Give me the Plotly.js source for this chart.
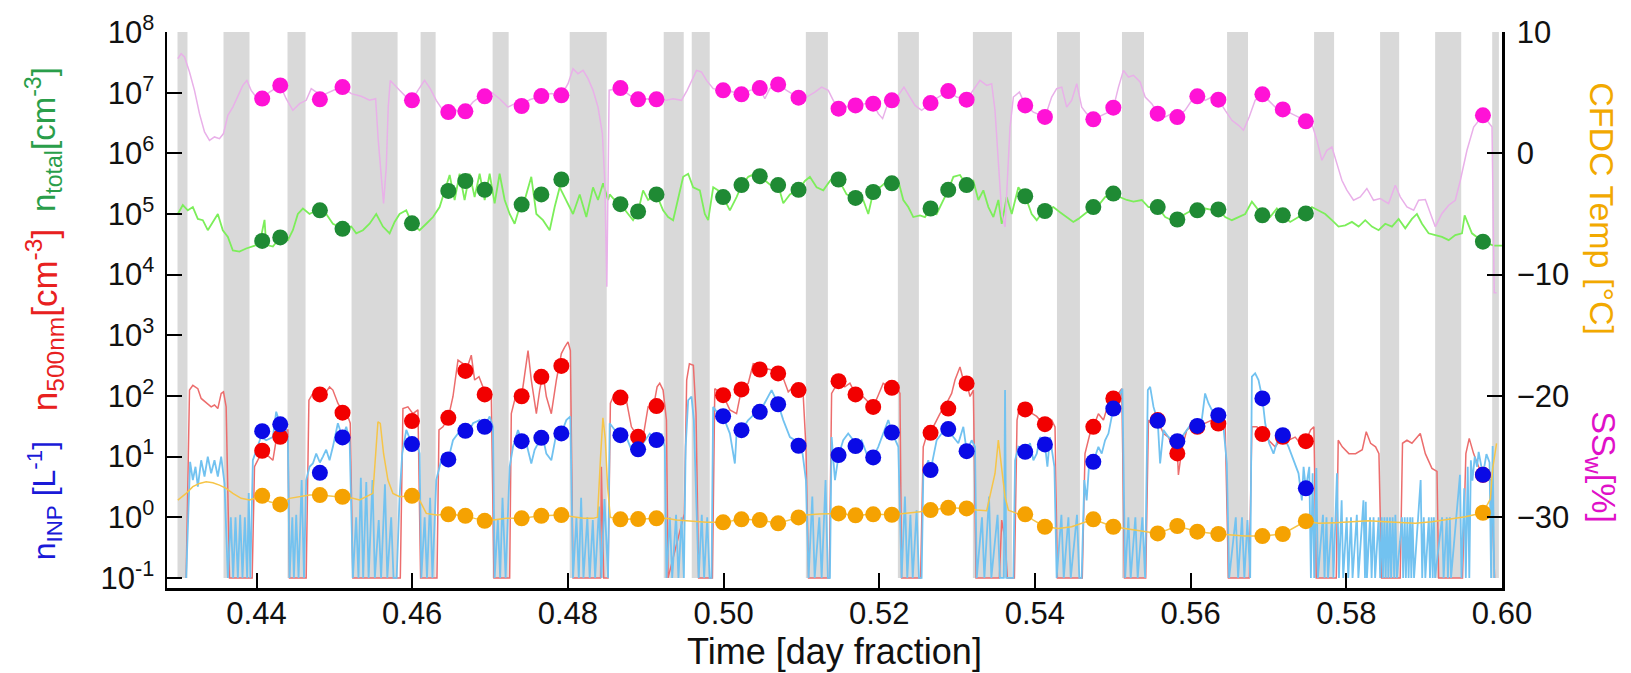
<!DOCTYPE html>
<html>
<head>
<meta charset="utf-8">
<script src="https://cdn.plot.ly/plotly-3.0.1.min.js"></script>
<style>html,body{margin:0;padding:0;background:#fff}#chart{width:1631px;height:673px}</style>
</head>
<body>
<div id="chart"></div>
<script>
// ---------- data ----------
const xTickVals = [0.44,0.46,0.48,0.50,0.52,0.54,0.56,0.58,0.60];
const leftTickVals = [0.1,1,10,100,1e3,1e4,1e5,1e6,1e7,1e8];
const leftTickText = ['10<sup>-1</sup>','10<sup>0</sup>','10<sup>1</sup>','10<sup>2</sup>','10<sup>3</sup>','10<sup>4</sup>','10<sup>5</sup>','10<sup>6</sup>','10<sup>7</sup>','10<sup>8</sup>'];
const rightTickVals = [-30,-20,-10,0,10];

// grey bands (filter / background periods)
const bandStart = [0.42985,0.43576,0.44398,0.45221,0.46108,0.47033,0.48023,0.49231,0.49591,0.51057,0.52239,0.53203,0.54283,0.55118,0.56468,0.57586,0.58434,0.59141,0.59874];
const bandEnd   = [0.43113,0.43910,0.44630,0.45812,0.46301,0.47239,0.48499,0.49488,0.49822,0.51340,0.52509,0.53704,0.54578,0.55401,0.56737,0.57843,0.58679,0.59476,0.59960];

// sample averages (markers)
const sampleTime = [0.44073,0.44305,0.44814,0.45105,0.45997,0.46464,0.46683,0.46931,0.47406,0.47659,0.47916,
  0.48675,0.48902,0.49138,0.49994,0.50230,0.50465,0.50701,0.50963,0.51477,0.51695,0.51922,0.52162,0.52659,0.52886,0.53122,0.53875,0.54128,
  0.54750,0.55007,0.55577,0.55829,0.56086,0.56356,0.56922,0.57184,0.57480,0.59755];
const sswSample = [4.51,5.60,4.45,5.46,4.37,3.40,3.46,4.70,3.90,4.72,4.78,
  5.38,4.45,4.45,5.19,4.86,5.38,5.68,4.59,3.68,3.95,4.09,4.37,4.14,5.13,4.42,3.95,3.00,
  2.80,3.76,3.27,2.99,4.70,4.42,4.86,3.62,2.64,3.13];
const nTotalSample = [3.6e4,4.1e4,1.15e5,5.7e4,7.0e4,2.4e5,3.5e5,2.5e5,1.43e5,2.1e5,3.7e5,
  1.45e5,1.1e5,2.1e5,1.9e5,3.0e5,4.2e5,3.0e5,2.5e5,3.7e5,1.84e5,2.3e5,3.2e5,1.23e5,2.5e5,3.0e5,1.96e5,1.12e5,
  1.3e5,2.17e5,1.3e5,8.1e4,1.15e5,1.19e5,9.5e4,9.5e4,1.02e5,3.5e4];
const n500Sample = [12.5,21.2,106,53,38.5,43.6,259,106,99,207,313,
  94,21.2,68,103,128,273,235,125,175,106,66,136,24.7,62,161,60,34.3,
  31,91,40,11.3,31,35,23.5,21.2,18,5.0];
const nInpSample = [26.3,34,5.4,20.7,16.1,9.0,26.6,31,18,20.4,24.1,
  22.6,13.2,18.7,46.5,27.3,54.7,73,15.1,10.6,14.9,9.7,25,6.0,28.4,12.3,12,15.9,
  8.2,62,38.9,18,32.1,48.3,91,22.6,3.0,5.0];
const cfdcTempSample = [-28.23,-28.94,-28.17,-28.31,-28.23,-29.76,-29.88,-30.29,-30.09,-29.88,-29.82,
  -30.17,-30.15,-30.09,-30.42,-30.17,-30.23,-30.50,-30.01,-29.68,-29.84,-29.76,-29.79,-29.41,-29.22,-29.27,-29.76,-30.78,
  -30.17,-30.78,-31.33,-30.72,-31.19,-31.38,-31.55,-31.38,-30.32,-29.63];

// continuous records: [time, value]
const sswLine = [[0.42989,7.80],[0.43032,8.21],[0.43075,7.94],[0.43139,6.70],[0.43203,5.19],[0.43267,3.27],[0.43332,1.76],[0.43396,1.07],[0.43460,1.35],[0.43524,1.21],
[0.43576,1.63],[0.43632,3.13],[0.43696,3.81],[0.43760,4.64],[0.43824,5.60],[0.43876,6.01],[0.43931,5.19],[0.43996,4.64],[0.44073,4.50],[0.44167,5.05],
[0.44231,5.33],[0.44304,5.60],[0.44381,4.50],[0.44467,3.54],[0.44553,4.09],[0.44638,4.37],[0.44703,5.33],[0.44767,5.05],[0.44814,4.45],[0.44895,4.92],
[0.45003,5.24],[0.45105,5.46],[0.45217,4.92],[0.45345,4.70],[0.45452,4.37],[0.45530,4.50],[0.45564,1.07],[0.45602,-2.22],[0.45632,-4.14],[0.45667,-1.12],
[0.45692,3.81],[0.45718,6.01],[0.45774,5.60],[0.45838,5.19],[0.45924,4.64],[0.45997,4.37],[0.46074,5.19],[0.46159,6.01],[0.46232,5.33],[0.46309,4.37],
[0.46395,3.54],[0.46464,3.41],[0.46566,3.54],[0.46682,3.46],[0.46781,4.23],[0.46866,4.64],[0.46931,4.70],[0.47016,5.05],[0.47123,4.50],[0.47230,3.81],
[0.47316,4.09],[0.47406,3.90],[0.47509,4.42],[0.47659,4.73],[0.47787,4.92],[0.47916,4.78],[0.48002,5.74],[0.48066,6.98],[0.48130,6.56],[0.48195,6.84],
[0.48259,6.15],[0.48323,5.19],[0.48387,3.81],[0.48443,1.63],[0.48475,-2.49],[0.48500,-11.0],[0.48530,5.20],[0.48675,5.38],[0.48795,4.78],[0.48902,4.45],
[0.49010,4.50],[0.49138,4.45],[0.49266,4.37],[0.49352,4.50],[0.49459,4.37],[0.49532,5.19],[0.49588,6.01],[0.49653,6.84],[0.49717,6.70],[0.49781,6.01],
[0.49867,5.33],[0.49994,5.19],[0.50123,5.05],[0.50230,4.86],[0.50337,5.19],[0.50466,5.38],[0.50530,4.50],[0.50594,5.33],[0.50702,5.68],[0.50809,5.19],
[0.50963,4.59],[0.51066,4.64],[0.51173,5.05],[0.51259,5.46],[0.51345,5.19],[0.51409,4.37],[0.51478,3.68],[0.51580,3.81],[0.51696,3.95],[0.51816,4.09],
[0.51923,4.09],[0.51987,3.27],[0.52043,2.86],[0.52094,3.81],[0.52163,4.37],[0.52245,4.78],[0.52317,5.46],[0.52394,4.64],[0.52459,3.95],[0.52545,3.54],
[0.52660,4.14],[0.52759,4.64],[0.52887,5.13],[0.52994,4.64],[0.53123,4.42],[0.53230,5.46],[0.53294,6.01],[0.53380,5.60],[0.53444,5.74],[0.53487,3.54],
[0.53530,-0.57],[0.53573,-4.96],[0.53616,-6.06],[0.53646,-1.67],[0.53680,2.17],[0.53723,4.64],[0.53800,5.05],[0.53877,3.95],[0.53980,3.40],[0.54130,2.99],
[0.54215,4.64],[0.54279,5.33],[0.54344,5.46],[0.54408,3.81],[0.54472,4.37],[0.54537,5.74],[0.54601,3.81],[0.54665,3.27],[0.54751,2.80],[0.54858,3.13],
[0.54944,3.40],[0.55008,3.76],[0.55073,5.46],[0.55137,6.84],[0.55201,6.29],[0.55266,6.43],[0.55351,5.88],[0.55416,4.64],[0.55501,4.09],[0.55578,3.27],
[0.55673,2.99],[0.55758,3.27],[0.55830,2.99],[0.55929,3.54],[0.56015,4.37],[0.56088,4.70],[0.56186,4.37],[0.56272,4.64],[0.56358,4.42],[0.56444,3.54],
[0.56530,2.72],[0.56615,2.31],[0.56679,1.90],[0.56752,2.99],[0.56829,4.37],[0.56923,4.86],[0.57000,4.37],[0.57086,3.81],[0.57185,3.62],[0.57300,3.27],
[0.57386,2.99],[0.57481,2.64],[0.57558,2.44],[0.57622,1.07],[0.57686,-0.57],[0.57751,0.25],[0.57815,0.52],[0.57879,-0.85],[0.57943,-2.22],[0.58007,-3.04],
[0.58093,-3.87],[0.58179,-3.59],[0.58264,-2.90],[0.58350,-3.87],[0.58436,-3.73],[0.58543,-4.14],[0.58629,-2.63],[0.58693,-3.59],[0.58779,-4.41],[0.58865,-4.69],
[0.58929,-3.87],[0.59015,-3.81],[0.59079,-4.96],[0.59143,-6.06],[0.59229,-4.96],[0.59315,-4.28],[0.59400,-3.87],[0.59465,-2.22],[0.59550,0.25],[0.59636,2.17],
[0.59756,3.13],[0.59872,2.17],[0.59900,-11.5],[0.59930,-11.5]];

const nTotalLine = [[0.42989,1.0e5],[0.43053,1.4e5],[0.43117,1.15e5],[0.43182,1.3e5],[0.43246,8.3e4],[0.43310,7.9e4],[0.43374,5.4e4],[0.43439,7.4e4],[0.43503,1.0e5],[0.43567,5.4e4],
[0.43632,4.2e4],[0.43696,2.5e4],[0.43781,2.4e4],[0.43867,2.7e4],[0.43953,2.9e4],[0.44039,3.2e4],[0.44103,8.0e4],[0.44124,3.1e4],[0.44210,2.9e4],[0.44304,4.1e4],
[0.44403,3.7e4],[0.44467,5.4e4],[0.44531,1.0e5],[0.44596,1.23e5],[0.44681,1.0e5],[0.44767,1.15e5],[0.44814,1.15e5],[0.44895,1.0e5],[0.44981,6.9e4],[0.45105,5.8e4],
[0.45217,6.2e4],[0.45281,4.8e4],[0.45367,5.4e4],[0.45452,6.9e4],[0.45538,1.0e5],[0.45624,6.2e4],[0.45710,4.8e4],[0.45774,7.4e4],[0.45838,1.0e5],[0.45924,1.15e5],
[0.45997,6.9e4],[0.46095,5.4e4],[0.46181,6.9e4],[0.46267,8.9e4],[0.46352,1.3e5],[0.46417,2.45e5],[0.46481,4.4e5],[0.46545,1.7e5],[0.46609,4.6e5],[0.46673,1.7e5],
[0.46738,4.6e5],[0.46802,1.9e5],[0.46866,4.6e5],[0.46931,1.7e5],[0.46995,4.6e5],[0.47059,1.5e5],[0.47123,4.6e5],[0.47188,1.7e5],[0.47252,1.0e5],[0.47316,6.9e4],
[0.47380,1.3e5],[0.47445,1.7e5],[0.47530,4.1e5],[0.47595,1.0e5],[0.47680,7.9e4],[0.47766,5.4e4],[0.47830,1.3e5],[0.47895,2.75e5],[0.47980,1.7e5],[0.48066,1.0e5],
[0.48152,2.1e5],[0.48237,8.9e4],[0.48323,2.75e5],[0.48387,1.7e5],[0.48452,3.2e5],[0.48516,1.7e5],[0.48537,2.1e5],[0.48601,1.7e5],[0.48675,1.45e5],[0.48773,1.0e5],
[0.48837,7.9e4],[0.48902,1.1e5],[0.48966,2.45e5],[0.49030,1.7e5],[0.49138,2.1e5],[0.49223,1.15e5],[0.49288,8.9e4],[0.49352,7.9e4],[0.49416,1.7e5],[0.49481,4.1e5],
[0.49545,4.6e5],[0.49609,2.75e5],[0.49695,2.45e5],[0.49759,1.0e5],[0.49802,7.9e4],[0.49867,2.75e5],[0.49931,2.45e5],[0.49995,1.9e5],[0.50081,1.15e5],[0.50167,1.9e5],
[0.50231,2.95e5],[0.50317,4.1e5],[0.50402,4.6e5],[0.50467,4.2e5],[0.50552,3.4e5],[0.50638,2.75e5],[0.50702,2.95e5],[0.50767,1.5e5],[0.50852,2.1e5],[0.50964,2.5e5],
[0.51045,3.5e5],[0.51109,4.1e5],[0.51195,2.75e5],[0.51281,2.45e5],[0.51366,3.5e5],[0.51431,4.1e5],[0.51478,3.7e5],[0.51580,2.1e5],[0.51696,1.8e5],[0.51794,1.7e5],
[0.51859,1.0e5],[0.51923,2.3e5],[0.52009,2.75e5],[0.52094,3.4e5],[0.52163,3.2e5],[0.52245,3.5e5],[0.52309,1.7e5],[0.52373,1.3e5],[0.52437,8.9e4],[0.52523,9.5e4],
[0.52587,8.9e4],[0.52660,1.23e5],[0.52737,1.0e5],[0.52823,1.7e5],[0.52887,2.5e5],[0.52952,4.1e5],[0.53037,4.4e5],[0.53123,2.95e5],[0.53209,3.5e5],[0.53273,1.7e5],
[0.53337,2.45e5],[0.53402,1.3e5],[0.53466,8.9e4],[0.53530,1.7e5],[0.53573,6.9e4],[0.53637,1.9e5],[0.53702,1.0e5],[0.53787,2.75e5],[0.53877,1.95e5],[0.53958,1.0e5],
[0.54023,7.9e4],[0.54108,1.12e5],[0.54236,1.3e5],[0.54322,1.07e5],[0.54408,8.9e4],[0.54493,7.4e4],[0.54557,8.3e4],[0.54643,1.0e5],[0.54751,1.3e5],[0.54837,1.5e5],
[0.54901,1.9e5],[0.55008,2.1e5],[0.55094,1.9e5],[0.55180,1.7e5],[0.55266,1.6e5],[0.55373,1.7e5],[0.55458,1.3e5],[0.55578,1.3e5],[0.55673,8.9e4],[0.55758,7.9e4],
[0.55830,8.1e4],[0.55929,1.0e5],[0.56015,1.15e5],[0.56088,1.15e5],[0.56186,1.23e5],[0.56272,1.17e5],[0.56358,1.19e5],[0.56444,8.9e4],[0.56530,7.9e4],[0.56615,8.9e4],
[0.56701,1.0e5],[0.56787,1.6e5],[0.56872,1.15e5],[0.56923,9.5e4],[0.57022,8.9e4],[0.57108,1.23e5],[0.57185,9.5e4],[0.57279,7.4e4],[0.57386,8.9e4],[0.57481,1.0e5],
[0.57558,1.3e5],[0.57643,1.15e5],[0.57729,1.0e5],[0.57815,7.9e4],[0.57900,6.2e4],[0.57986,6.5e4],[0.58072,7.4e4],[0.58158,6.2e4],[0.58243,7.9e4],[0.58329,6.2e4],
[0.58415,5.4e4],[0.58500,6.9e4],[0.58586,6.2e4],[0.58672,8.3e4],[0.58757,5.8e4],[0.58843,8.3e4],[0.58907,1.0e5],[0.58972,6.9e4],[0.59057,4.8e4],[0.59143,4.5e4],
[0.59229,4.2e4],[0.59315,3.7e4],[0.59400,4.5e4],[0.59486,4.8e4],[0.59520,9.5e4],[0.59614,4.8e4],[0.59756,3.5e4],[0.59893,3.0e4],[0.60000,3.0e4]];

const n500Line = [[0.43096,0.1],[0.43139,125],[0.43182,150],[0.43246,132],[0.43289,91],[0.43353,76],[0.43417,66],[0.43460,71],[0.43503,62],[0.43546,110],
[0.43576,117],[0.43610,66],[0.43632,4.1],[0.43653,0.1],[0.43944,0.1],[0.43974,6.8],[0.44039,10],[0.44124,11],[0.44210,8.7],[0.44253,18.8],
[0.44304,21],[0.44360,27.5],[0.44403,27.5],[0.44424,0.1],[0.44638,0.1],[0.44673,85],[0.44724,110],[0.44814,106],[0.44895,117],[0.44938,141],
[0.44981,125],[0.45045,76],[0.45105,55],[0.45153,55],[0.45204,35.5],[0.45238,0.1],[0.45847,0.1],[0.45881,62],[0.45945,66],[0.46009,51],
[0.46074,59],[0.46108,0.1],[0.46318,0.1],[0.46344,27.5],[0.46395,31],[0.46464,44],[0.46524,98],[0.46588,390],[0.46652,340],[0.46716,320],
[0.46759,470],[0.46802,183],[0.46858,208],[0.46909,141],[0.46973,125],[0.47016,103],[0.47050,0.1],[0.47252,0.1],[0.47273,51],[0.47338,110],
[0.47406,99],[0.47458,280],[0.47488,560],[0.47530,183],[0.47595,51],[0.47638,125],[0.47680,236],[0.47723,98],[0.47787,51],[0.47852,183],
[0.47916,500],[0.47959,640],[0.48002,780],[0.48032,560],[0.48066,0.1],[0.48420,0.1],[0.48430,6.8],[0.48460,0.1],[0.48516,0.1],[0.48546,76],
[0.48602,110],[0.48675,94],[0.48751,85],[0.48816,31],[0.48902,21],[0.48966,21],[0.49030,66],[0.49095,62],[0.49146,141],[0.49180,162],
[0.49223,125],[0.49266,40],[0.49287,0.1],[0.49496,1.15],[0.49526,183],[0.49561,340],[0.49612,320],[0.49646,51],[0.49680,0.1],[0.49857,0.1],
[0.49887,132],[0.49994,103],[0.50081,59],[0.50167,51],[0.50230,129],[0.50317,162],[0.50381,340],[0.50467,320],[0.50552,280],[0.50638,265],
[0.50702,235],[0.50767,195],[0.50831,117],[0.50895,141],[0.50963,125],[0.51015,162],[0.51058,14.5],[0.51092,0.1],[0.51358,0.1],[0.51388,110],
[0.51478,175],[0.51558,141],[0.51623,162],[0.51696,106],[0.51773,103],[0.51837,85],[0.51923,66],[0.51987,103],[0.52051,162],[0.52163,136],
[0.52223,141],[0.52266,110],[0.52287,0.1],[0.52531,0.1],[0.52565,14.5],[0.52630,27.5],[0.52660,24.7],[0.52694,31],[0.52780,51],[0.52866,76],
[0.52930,110],[0.52973,183],[0.53037,300],[0.53080,183],[0.53123,161],[0.53166,98],[0.53209,125],[0.53243,0.1],[0.53543,0.1],[0.53573,0.9],
[0.53616,0.42],[0.53646,0.1],[0.53736,0.1],[0.53770,40],[0.53813,76],[0.53877,60],[0.53958,51],[0.54023,46],[0.54108,34.3],[0.54215,40],
[0.54258,31],[0.54288,0.1],[0.54608,0.1],[0.54643,11.2],[0.54707,24],[0.54751,31],[0.54815,51],[0.54880,40],[0.54944,76],[0.55008,91],
[0.55073,110],[0.55116,132],[0.55150,0.1],[0.55423,0.1],[0.55458,40],[0.55522,31],[0.55578,40],[0.55651,24],[0.55715,21],[0.55780,13],
[0.55830,11.3],[0.55843,5],[0.55886,13],[0.55950,27.5],[0.56015,31],[0.56088,31],[0.56186,35.5],[0.56272,40],[0.56358,35],[0.56444,31],
[0.56486,0.1],[0.56752,0.1],[0.56787,31],[0.56851,31],[0.56923,23.5],[0.57000,18.6],[0.57086,14.5],[0.57185,21],[0.57258,18.6],[0.57343,21],
[0.57408,16.6],[0.57481,18],[0.57541,27.5],[0.57584,31],[0.57614,0.1],[0.57871,0.1],[0.57896,18.6],[0.57948,14.5],[0.58033,11.2],[0.58119,11.2],
[0.58205,13],[0.58256,25.7],[0.58312,16.6],[0.58376,14.5],[0.58419,11.2],[0.58453,0.1],[0.58692,0.1],[0.58722,16.6],[0.58779,18.6],[0.58843,16.6],
[0.58907,21],[0.58950,24],[0.59015,11.2],[0.59100,6.4],[0.59165,5.7],[0.59186,0.1],[0.59493,0.1],[0.59536,11.2],[0.59579,20],[0.59635,11.2],
[0.59700,6.8],[0.59756,5],[0.59862,4.1],[0.59905,0.1]];

const nInpLine = [[0.43096,0.1],[0.43130,1.3],[0.43147,8.2],[0.43182,4.1],[0.43216,6.8],[0.43246,3.2],[0.43289,8.7],[0.43332,4.7],[0.43374,10],[0.43417,5.3],
[0.43460,8.7],[0.43503,4.7],[0.43546,10],[0.43589,3.6],[0.43632,0.1],[0.43670,1.0],[0.43700,0.1],[0.43730,1.0],[0.43760,0.1],[0.43790,1.1],
[0.43820,0.1],[0.43850,1.0],[0.43880,0.1],[0.43900,2.5],[0.43920,0.1],[0.43953,8.7],[0.44056,21],[0.44124,18.6],[0.44210,21],[0.44253,55],
[0.44304,34],[0.44360,31],[0.44403,21],[0.44424,0.1],[0.44460,1.0],[0.44480,0.1],[0.44510,1.1],[0.44540,0.1],[0.44580,4.1],[0.44610,0.1],
[0.44638,4.1],[0.44681,6.8],[0.44724,7.7],[0.44767,11.2],[0.44814,8.0],[0.44853,10],[0.44895,13],[0.44938,8.7],[0.44981,14.5],[0.45045,35.5],
[0.45105,20.7],[0.45153,31],[0.45196,18.6],[0.45238,0.1],[0.45280,1.0],[0.45310,0.1],[0.45340,4.5],[0.45370,0.1],[0.45410,3.8],[0.45440,0.1],
[0.45490,4.1],[0.45520,0.1],[0.45570,0.9],[0.45600,0.1],[0.45650,3.5],[0.45680,0.1],[0.45730,1.0],[0.45760,0.1],[0.45800,0.1],[0.45838,2.2],
[0.45872,11.2],[0.45924,27.5],[0.45997,16.1],[0.46052,18.6],[0.46095,11.2],[0.46117,0.1],[0.46160,1.0],[0.46190,0.1],[0.46230,2.1],[0.46260,0.1],
[0.46309,4.1],[0.46352,6.8],[0.46395,11.2],[0.46464,9.0],[0.46524,18.6],[0.46588,24],[0.46652,31],[0.46716,24],[0.46781,35.5],[0.46866,40],
[0.46931,31],[0.46995,46],[0.47038,31],[0.47059,0.1],[0.47100,0.9],[0.47130,0.1],[0.47160,2.1],[0.47200,0.1],[0.47252,6.8],[0.47295,14.5],
[0.47359,27.5],[0.47406,18],[0.47466,16.6],[0.47530,7.7],[0.47573,13],[0.47638,18.6],[0.47680,20.4],[0.47723,11.2],[0.47787,8.7],[0.47852,24],
[0.47916,24.1],[0.47980,40],[0.48032,46],[0.48066,0.1],[0.48110,1.0],[0.48140,0.1],[0.48170,2.1],[0.48200,0.1],[0.48250,1.0],[0.48280,0.1],
[0.48320,0.9],[0.48350,0.1],[0.48400,1.5],[0.48430,0.1],[0.48470,2.0],[0.48516,0.1],[0.48537,35.5],[0.48602,27.5],[0.48675,22.6],[0.48751,21],
[0.48816,13],[0.48902,13.2],[0.48966,16.6],[0.49052,24],[0.49138,18.7],[0.49202,24],[0.49245,14.5],[0.49266,0.1],[0.49310,1.0],[0.49340,0.1],
[0.49390,1.1],[0.49420,0.1],[0.49460,1.0],[0.49490,0.1],[0.49513,14.5],[0.49545,85],[0.49588,98],[0.49618,40],[0.49652,2.2],[0.49680,0.1],
[0.49720,1.1],[0.49750,0.1],[0.49790,1.0],[0.49820,0.1],[0.49845,0.1],[0.49866,66],[0.49930,51],[0.49994,46.5],[0.50081,24],[0.50145,7.7],
[0.50167,24],[0.50230,27.3],[0.50317,40],[0.50402,51],[0.50467,54.7],[0.50552,85],[0.50617,125],[0.50702,73],[0.50767,40],[0.50852,21],
[0.50917,18.6],[0.50963,15.1],[0.51015,11.2],[0.51058,4.1],[0.51092,0.1],[0.51140,2.2],[0.51170,0.1],[0.51230,1.0],[0.51260,0.1],[0.51310,4.1],
[0.51340,0.1],[0.51366,0.1],[0.51388,21],[0.51431,4.1],[0.51478,10.6],[0.51537,18.6],[0.51601,24],[0.51666,18.6],[0.51696,14.9],[0.51773,18.6],
[0.51837,11.2],[0.51923,9.7],[0.51987,14.5],[0.52051,24],[0.52116,40],[0.52163,25],[0.52202,18.6],[0.52245,14.5],[0.52287,0.1],[0.52330,2.2],
[0.52360,0.1],[0.52400,1.1],[0.52430,0.1],[0.52480,1.3],[0.52510,0.1],[0.52544,0.1],[0.52566,5.3],[0.52630,8.7],[0.52660,6.0],[0.52737,18.6],
[0.52801,24],[0.52887,28.4],[0.52952,21],[0.53016,16.6],[0.53080,31],[0.53123,12.3],[0.53187,18.6],[0.53230,14.5],[0.53252,0.1],[0.53320,1.0],
[0.53350,0.1],[0.53410,2.2],[0.53440,0.1],[0.53520,1.1],[0.53550,0.1],[0.53600,0.1],[0.53616,125],[0.53632,0.1],[0.53723,0.1],[0.53745,8.7],
[0.53787,14.5],[0.53877,12],[0.53937,16.6],[0.53980,8.7],[0.54023,11.2],[0.54066,21],[0.54128,15.9],[0.54160,6.8],[0.54193,21],[0.54250,6.8],
[0.54279,0.1],[0.54340,1.1],[0.54370,0.1],[0.54430,1.0],[0.54460,0.1],[0.54540,1.1],[0.54570,0.1],[0.54600,0.1],[0.54634,4.1],[0.54664,1.9],
[0.54694,6.8],[0.54750,8.2],[0.54815,14.5],[0.54858,11.2],[0.54901,18.6],[0.54944,24],[0.55007,62],[0.55073,98],[0.55124,132],[0.55159,0.1],
[0.55200,1.0],[0.55230,0.1],[0.55290,1.0],[0.55320,0.1],[0.55380,1.0],[0.55415,0.1],[0.55450,125],[0.55480,141],[0.55523,66],[0.55577,38.9],
[0.55608,7.7],[0.55651,27.5],[0.55715,21],[0.55780,18.6],[0.55829,18],[0.55886,21],[0.55950,27.5],[0.56015,35.5],[0.56086,32.1],[0.56143,40],
[0.56186,110],[0.56229,76],[0.56272,59],[0.56356,48.3],[0.56422,31],[0.56465,7.7],[0.56495,0.1],[0.56580,1.0],[0.56610,0.1],[0.56660,1.0],
[0.56690,0.1],[0.56730,0.9],[0.56765,0.1],[0.56787,208],[0.56829,236],[0.56872,183],[0.56922,91],[0.56958,35.5],[0.57009,16.6],[0.57065,11.2],
[0.57129,21],[0.57184,22.6],[0.57258,14.5],[0.57322,8.7],[0.57386,5.3],[0.57429,1.9],[0.57451,6.8],[0.57480,3.0],[0.57524,6.8],[0.57545,0.1],
[0.57567,5.3],[0.57588,0.1],[0.57615,6.5],[0.57635,0.1],[0.57700,1.1],[0.57720,0.1],[0.57745,1.0],[0.57765,0.1],[0.57815,1.0],[0.57835,0.1],
[0.57880,5.3],[0.57905,0.1],[0.57940,1.9],[0.57960,0.1],[0.58005,1.0],[0.58025,0.1],[0.58060,1.0],[0.58080,0.1],[0.58135,1.1],[0.58155,0.1],
[0.58220,1.9],[0.58240,0.1],[0.58250,1.8],[0.58265,0.1],[0.58305,1.0],[0.58325,0.1],[0.58350,1.0],[0.58370,0.1],[0.58415,1.0],[0.58435,0.1],
[0.58455,1.0],[0.58470,0.1],[0.58490,1.0],[0.58505,0.1],[0.58525,1.0],[0.58540,0.1],[0.58560,1.0],[0.58575,0.1],[0.58595,1.0],[0.58615,0.1],
[0.58630,1.1],[0.58650,0.1],[0.58715,1.0],[0.58730,0.1],[0.58750,1.0],[0.58765,0.1],[0.58785,1.0],[0.58800,0.1],[0.58820,1.0],[0.58835,0.1],
[0.58850,1.0],[0.58870,0.1],[0.58955,4.1],[0.58975,0.1],[0.58995,1.0],[0.59015,0.1],[0.59060,1.0],[0.59075,0.1],[0.59095,1.0],[0.59110,0.1],
[0.59125,1.0],[0.59140,0.1],[0.59230,1.0],[0.59250,0.1],[0.59290,1.0],[0.59305,0.1],[0.59330,1.0],[0.59345,0.1],[0.59460,5.0],[0.59480,0.1],
[0.59515,3.0],[0.59535,0.1],[0.59560,6.8],[0.59580,0.1],[0.59600,8.7],[0.59620,4.0],[0.59650,10],[0.59680,6.8],[0.59700,12],[0.59755,5.0],
[0.59800,11],[0.59840,8],[0.59860,0.1],[0.59880,15],[0.59900,0.1]];

const cfdcTempLine = [[0.42989,-28.58],[0.43096,-28.03],[0.43182,-27.48],[0.43267,-27.21],[0.43353,-27.07],[0.43439,-27.15],[0.43524,-27.35],[0.43610,-27.62],[0.43696,-28.03],[0.43803,-28.44],
[0.43910,-28.58],[0.44073,-28.23],[0.44167,-28.72],[0.44304,-28.94],[0.44424,-28.44],[0.44553,-28.31],[0.44681,-28.17],[0.44814,-28.17],[0.44960,-28.25],[0.45105,-28.31],
[0.45238,-28.44],[0.45324,-28.58],[0.45410,-28.31],[0.45495,-28.03],[0.45560,-22.13],[0.45590,-22.27],[0.45632,-24.74],[0.45688,-26.93],[0.45752,-28.03],[0.45838,-28.31],
[0.45997,-28.23],[0.46095,-28.58],[0.46181,-29.68],[0.46309,-29.82],[0.46464,-29.76],[0.46682,-29.88],[0.46802,-30.09],[0.46931,-30.29],[0.47038,-30.23],[0.47209,-30.09],
[0.47406,-30.09],[0.47659,-29.88],[0.47916,-29.82],[0.48066,-29.96],[0.48195,-30.09],[0.48323,-30.09],[0.48380,-30.0],[0.48420,-25.0],[0.48450,-21.8],[0.48480,-23.5],
[0.48510,-27.5],[0.48545,-30.0],[0.48675,-30.17],[0.48902,-30.15],[0.49138,-30.09],[0.49266,-30.09],[0.49395,-30.23],[0.49524,-30.29],[0.49652,-30.37],[0.49781,-30.42],
[0.49994,-30.42],[0.50230,-30.17],[0.50466,-30.23],[0.50702,-30.50],[0.50963,-30.01],[0.51058,-29.82],[0.51229,-29.74],[0.51478,-29.68],[0.51696,-29.84],[0.51923,-29.76],
[0.52163,-29.79],[0.52351,-29.68],[0.52523,-29.54],[0.52660,-29.41],[0.52887,-29.22],[0.53123,-29.27],[0.53252,-29.41],[0.53380,-29.46],[0.53487,-26.39],[0.53530,-23.64],
[0.53573,-25.84],[0.53616,-28.31],[0.53659,-29.41],[0.53766,-29.68],[0.53877,-29.76],[0.53980,-30.23],[0.54128,-30.78],[0.54300,-30.92],[0.54472,-30.78],[0.54643,-30.37],
[0.54750,-30.17],[0.55007,-30.78],[0.55159,-30.92],[0.55330,-31.11],[0.55577,-31.33],[0.55829,-30.72],[0.56086,-31.19],[0.56356,-31.38],[0.56530,-31.46],[0.56701,-31.55],
[0.56922,-31.55],[0.57184,-31.38],[0.57480,-30.32],[0.57643,-30.50],[0.57857,-30.45],[0.58072,-30.37],[0.58286,-30.29],[0.58500,-30.37],[0.58715,-30.45],[0.58886,-30.50],
[0.59100,-30.37],[0.59315,-30.17],[0.59529,-29.96],[0.59755,-29.63],[0.59850,-28.5],[0.59880,-26.0],[0.59930,-23.9]];

// ---------- chart ----------
const FONT = 'Liberation Sans, Arial, Helvetica, sans-serif';
const col = p => p.map(r => r[0]);
const val = p => p.map(r => r[1]);

function lineTrace(p, color, width, axis) {
  return {x: col(p), y: val(p), type: 'scatter', mode: 'lines', yaxis: axis,
          line: {color: color, width: width}, hoverinfo: 'skip', showlegend: false};
}
function markerTrace(y, color, axis) {
  return {x: sampleTime, y: y, type: 'scatter', mode: 'markers', yaxis: axis,
          marker: {color: color, size: 16, line: {width: 0}}, hoverinfo: 'skip', showlegend: false};
}

const traces = [
  lineTrace(nTotalLine, '#7cee5a', 1.8, 'y'),
  lineTrace(n500Line, '#ec6d6d', 1.5, 'y'),
  lineTrace(nInpLine, '#72c2f0', 1.8, 'y'),
  markerTrace(nTotalSample, '#1f8a34', 'y'),
  markerTrace(n500Sample, '#f20000', 'y'),
  markerTrace(nInpSample, '#0a0ae6', 'y'),
  lineTrace(sswLine, '#e9b0e9', 1.5, 'y2'),
  lineTrace(cfdcTempLine, '#f6c548', 1.5, 'y2'),
  markerTrace(sswSample, '#ff12d6', 'y2'),
  markerTrace(cfdcTempSample, '#f5a202', 'y2')
];

const shapes = bandStart.map((s, i) => ({
  type: 'rect', xref: 'x', yref: 'paper', x0: s, x1: bandEnd[i], y0: 0.018, y1: 1,
  fillcolor: '#d9d9d9', line: {width: 0}, layer: 'below'
}));

const axisCommon = {
  ticks: 'inside', ticklen: 15, tickwidth: 2, tickcolor: '#000',
  showline: true, linecolor: '#000', linewidth: 2.5,
  showgrid: false, zeroline: false,
  tickfont: {family: FONT, size: 31, color: '#111'}
};

const layout = {
  width: 1631, height: 673,
  margin: {l: 167, r: 129, t: 32, b: 85, pad: 0},
  paper_bgcolor: '#fff', plot_bgcolor: '#fff',
  showlegend: false,
  font: {family: FONT, color: '#111'},
  xaxis: Object.assign({}, axisCommon, {
    range: [0.4285, 0.60], tickvals: xTickVals, tickformat: '.2f',
    ticklabelstandoff: -4,
    title: {text: 'Time [day fraction]', font: {family: FONT, size: 36, color: '#111'}, standoff: 1}
  }),
  yaxis: Object.assign({}, axisCommon, {
    type: 'log', range: [-1.166, 8], tickvals: leftTickVals, ticktext: leftTickText,
    ticklabelstandoff: 4
  }),
  yaxis2: Object.assign({}, axisCommon, {
    overlaying: 'y', side: 'right', range: [-35.83, 10], tickvals: rightTickVals,
    ticklabelstandoff: 6
  }),
  shapes: shapes,
  annotations: [
    {text: 'n<sub>total</sub>[cm<sup>-3</sup>]', xref: 'paper', yref: 'paper', x: -0.092, y: 0.806,
     textangle: -90, showarrow: false, xanchor: 'center', yanchor: 'middle',
     font: {family: FONT, size: 33, color: '#2a9e4a'}},
    {text: 'n<sub>500nm</sub>[cm<sup>-3</sup>]', xref: 'paper', yref: 'paper', x: -0.092, y: 0.482,
     textangle: -90, showarrow: false, xanchor: 'center', yanchor: 'middle',
     font: {family: FONT, size: 35, color: '#e82020'}},
    {text: 'n<sub>INP</sub> [L<sup>-1</sup>]', xref: 'paper', yref: 'paper', x: -0.092, y: 0.158,
     textangle: -90, showarrow: false, xanchor: 'center', yanchor: 'middle',
     font: {family: FONT, size: 32, color: '#1a1ad8'}},
    {text: 'CFDC Temp [°C]', xref: 'paper', yref: 'paper', x: 1.075, y: 0.683,
     textangle: 90, showarrow: false, xanchor: 'center', yanchor: 'middle',
     font: {family: FONT, size: 34, color: '#f2a900'}},
    {text: 'SS<sub>w</sub>[%]', xref: 'paper', yref: 'paper', x: 1.075, y: 0.217,
     textangle: 90, showarrow: false, xanchor: 'center', yanchor: 'middle',
     font: {family: FONT, size: 34, color: '#e010c8'}}
  ]
};

Plotly.newPlot('chart', traces, layout, {staticPlot: true, displayModeBar: false});
</script>
</body>
</html>
